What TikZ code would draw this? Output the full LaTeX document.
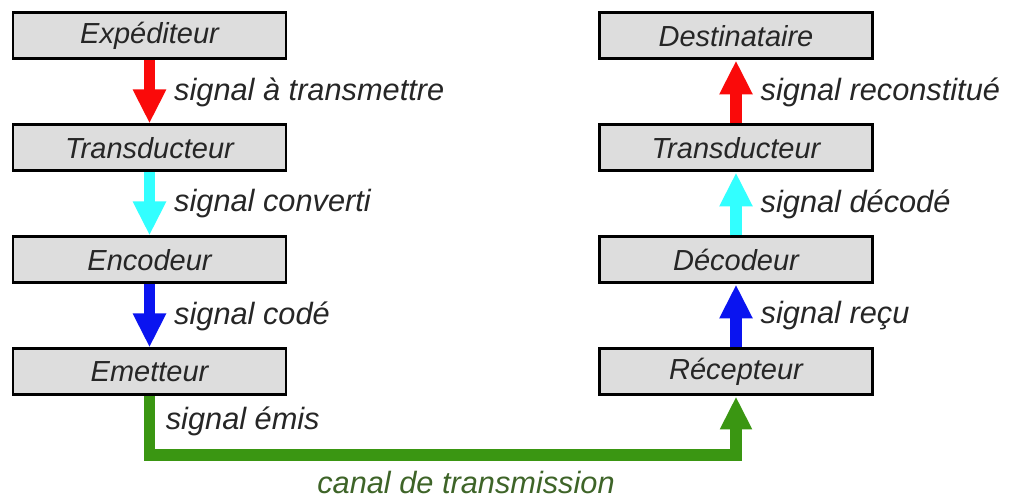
\documentclass[tikz,border=0pt]{standalone}
\usepackage{fontspec}
\setmainfont{Liberation Sans}
\usetikzlibrary{arrows.meta}
\definecolor{boxgray}{RGB}{221,221,221}
\definecolor{flred}{RGB}{250,10,10}
\definecolor{flcyan}{RGB}{50,255,255}
\definecolor{flblue}{RGB}{10,20,240}
\definecolor{flgreen}{RGB}{58,150,18}
\definecolor{txgreen}{RGB}{62,100,40}

\begin{document}
\begin{tikzpicture}[
	bloc/.style={draw=black,line width=1.7pt,fill=boxgray,minimum width=5.46cm,
		minimum height=0.92cm,inner sep=0pt,font=\fontsize{16.5}{19}\selectfont\itshape,text=black!85},
	sig/.style={line width=6.5pt,-{Triangle[length=0.68cm,width=0.62cm]}},
	lab/.style={anchor=west,inner sep=0pt,xshift=0.38cm,font=\fontsize{17.5}{20}\selectfont\itshape,text=black!85}]
	\useasboundingbox (0,0) rectangle (20.2,10);
%	left column
	\node[bloc] (exp) at (2.99,9.28) {Expéditeur};
	\node[bloc] (transA) at (2.99,7.04) {Transducteur};
	\node[bloc] (enc) at (2.99,4.80) {Encodeur};
	\node[bloc] (emet) at (2.99,2.56) {Emetteur};
%	right column
	\node[bloc] (dest) at (14.72,9.28) {Destinataire};
	\node[bloc] (transB) at (14.72,7.04) {Transducteur};
	\node[bloc] (dec) at (14.72,4.80) {Décodeur};
	\node[bloc] (recep) at (14.72,2.56) {Récepteur};
	\draw[sig,flred] (exp.south) -- (transA.north) node[lab,midway] {signal à transmettre};
	\draw[sig,flcyan] (transA.south) -- (enc.north) node[lab,midway] {signal converti};
	\draw[sig,flblue] (enc.south) -- (emet.north) node[lab,midway] {signal codé};
	\draw[sig,flblue] (recep.north) -- (dec.south) node[lab,midway] {signal reçu};
	\draw[sig,flcyan] (dec.north) -- (transB.south) node[lab,midway] {signal décodé};
	\draw[sig,flred] (transB.north) -- (dest.south) node[lab,midway] {signal reconstitué};
%	canal
	\coordinate (coin) at (emet.south |- 0,0.90);
	\draw[sig,flgreen,line width=6.8pt,line join=miter,-{Triangle[length=0.66cm,width=0.6cm]}]
		(emet.south) -- (coin) -| (recep.south);
	\node[lab,xshift=-0.06cm] (emis) at ([yshift=-0.50cm]emet.south) {signal émis};
	\node[font=\fontsize{17.5}{20}\selectfont\itshape,text=txgreen] (canal) at (9.32,0.34) {canal de transmission};
\end{tikzpicture}
\end{document}
